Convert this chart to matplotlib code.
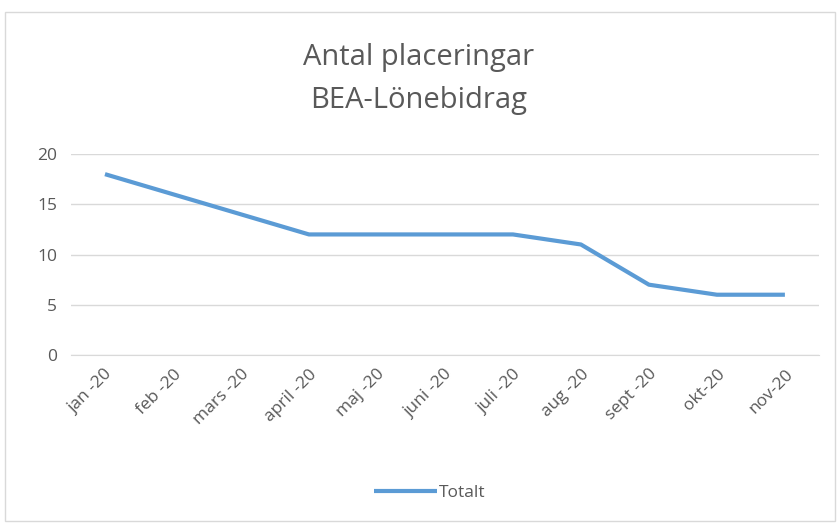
import matplotlib
matplotlib.use("Agg")
import matplotlib.pyplot as plt
from matplotlib.patches import Rectangle

months = ["jan -20", "feb -20", "mars -20", "april -20", "maj -20", "juni -20",
          "juli -20", "aug -20", "sept -20", "okt-20", "nov-20"]
totalt = [18, 16, 14, 12, 12, 12, 12, 11, 7, 6, 6]
yticks = [0, 5, 10, 15, 20]

plt.rcParams['font.family'] = ['Open Sans', 'DejaVu Sans']
txt = '#595959'
blue = '#5B9BD5'

fig = plt.figure(figsize=(8.38, 5.24), dpi=100)
fig.patches.append(Rectangle((0.006, 0.006), 0.99, 0.972, transform=fig.transFigure,
                             fill=False, edgecolor='#D9D9D9', linewidth=1))

ax = fig.add_axes([0.0847, 0.3225, 0.8925, 0.3835])
x = list(range(len(months)))
line, = ax.plot(x, totalt, color=blue, linewidth=3, solid_capstyle='butt', label='Totalt')
ax.set_xlim(-0.5, len(months) - 0.5)
ax.set_ylim(0, 20)
ax.set_yticks(yticks)
ax.set_yticklabels([str(v) for v in yticks], color=txt, fontsize=12.5)
ax.set_xticks(x)
ax.set_xticklabels(months, rotation=45, ha='right', rotation_mode='anchor',
                   color=txt, fontsize=12.5)
ax.tick_params(axis='both', length=0, pad=10)
ax.tick_params(axis='x', pad=8)
ax.grid(axis='y', color='#D9D9D9', linewidth=1)
ax.set_axisbelow(True)
for s in ['top', 'right', 'left']:
    ax.spines[s].set_visible(False)
ax.spines['bottom'].set_color('#D9D9D9')

fig.text(0.5, 0.89, "Antal placeringar", ha='center', va='center', fontsize=21, color=txt)
fig.text(0.5, 0.808, "BEA-Lönebidrag", ha='center', va='center', fontsize=21, color=txt)

fig.legend(handles=[line], loc='center', bbox_to_anchor=(0.513, 0.06), frameon=False,
           fontsize=12.5, labelcolor=txt, handlelength=3.6, handletextpad=0.15)

fig.savefig("out.png", dpi=100)
